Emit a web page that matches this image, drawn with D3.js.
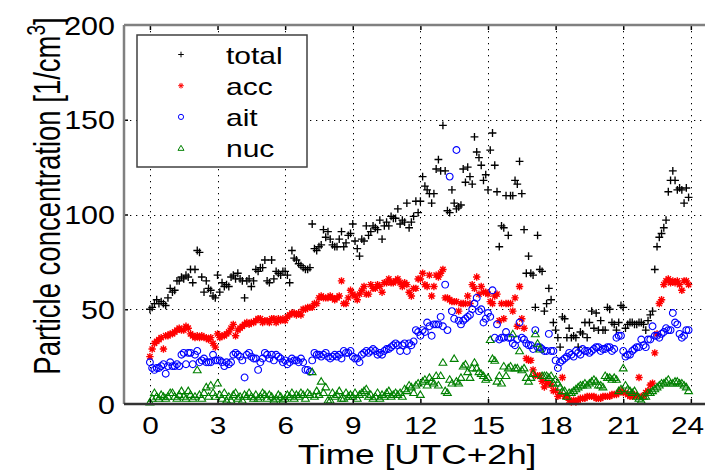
<!DOCTYPE html>
<html>
<head>
<meta charset="utf-8">
<script src="https://cdn.jsdelivr.net/npm/d3@7"></script>
<style>
  body { margin: 0; background: #fff; }
  svg { display: block; }
  text { font-family: Arial, "Liberation Sans", Helvetica, sans-serif; fill: #000; }
</style>
</head>
<body>
<svg id="chart" width="705" height="473"></svg>
<script>
// Six-minute samples over one day, local time (UTC+2h)
const sampleStep = 0.1; // hours between samples
const hourTicks = [0, 3, 6, 9, 12, 15, 18, 21, 24];
const concTicks = [0, 50, 100, 150, 200];
const seriesNames = ["total", "acc", "ait", "nuc"];

// Particle number concentrations [1/cm^3]
const total = [
  50, 51, 53, 55, 53, 54, 53, 52, 56, 61,
  59, 60, 65, 65, 67, 66, 68, 67, 71, 64,
  71, 81, 80, 67, 59, 65, 61, 60, 57, 56,
  68, 59, 64, 62, 63, 62, 67, 68, 66, 69,
  66, 65, 56, 65, 66, 62, 65, 71, 70, 72,
  72, 76, 65, 64, 76, 66, 70, 69, 68, 70,
  70, 68, 64, 81, 77, 76, 74, 73, 72, 71,
  71, 72, 95, 82, 81, 83, 84, 92, 88, 91,
  87, 84, 83, 83, 87, 91, 83, 85, 89, 90,
  95, 86, 82, 78, 87, 86, 94, 89, 91, 94,
  93, 92, 97, 87, 94, 96, 94, 99, 98, 98,
  103, 95, 97, 96, 106, 93, 96, 99, 107, 101,
  107, 120, 115, 113, 111, 106, 111, 124, 129, 123,
  147, 123, 102, 101, 113, 106, 103, 104, 105, 124,
  117, 125, 120, 116, 141, 133, 130, 126, 118, 121,
  113, 134, 143, 126, 112, 83, 94, 93, 110, 89,
  110, 110, 118, 116, 128, 111, 92, 69, 78, 69,
  68, 51, 89, 71, 70, 49, 53, 61, 55, 43,
  39, 35, 30, 46, 45, 35, 40, 35, 36, 35,
  30, 38, 37, 43, 35, 43, 49, 40, 48, 39,
  44, 39, 39, 51, 50, 43, 42, 39, 43, 52,
  51, 40, 42, 43, 43, 42, 42, 43, 43, 42,
  39, 44, 47, 49, 71, 83, 88, 90, 93, 97,
  112, 118, 123, 118, 113, 114, 113, 106, 114, 109
];

const acc = [
  25, 29, 32, 33, 34, 35, 29, 36, 36, 37,
  37, 38, 39, 40, 39, 39, 41, 40, 37, 36,
  35, 36, 35, 36, 35, 35, 34, 35, 32, 30,
  37, 35, 36, 36, 37, 38, 40, 42, 36, 39,
  40, 41, 42, 43, 42, 43, 43, 44, 45, 45,
  43, 44, 44, 43, 45, 45, 43, 45, 44, 45,
  44, 46, 47, 48, 48, 47, 48, 47, 50, 50,
  51, 51, 51, 53, 53, 56, 57, 56, 56, 56,
  57, 56, 55, 56, 57, 65, 53, 53, 56, 60,
  58, 57, 55, 58, 60, 62, 58, 58, 63, 61,
  61, 63, 62, 59, 64, 64, 66, 64, 64, 65,
  66, 64, 62, 64, 63, 59, 57, 61, 61, 66,
  66, 69, 63, 62, 68, 57, 62, 68, 67, 69,
  71, 56, 56, 55, 54, 54, 54, 49, 53, 53,
  53, 57, 53, 63, 61, 67, 58, 62, 59, 59,
  58, 54, 53, 57, 58, 44, 53, 45, 53, 53,
  53, 49, 56, 41, 62, 45, 40, 24, 23, 23,
  18, 15, 15, 15, 12, 9, 11, 11, 10, 7,
  7, 4, 5, 14, 4, 4, 2, 1, 2, 1,
  2, 3, 3, 3, 4, 4, 4, 4, 3, 3,
  3, 4, 4, 4, 4, 5, 5, 5, 6, 7,
  6, 6, 5, 4, 4, 5, 4, 14, 4, 4,
  6, 7, 10, 11, 27, 37, 53, 55, 63, 65,
  66, 64, 65, 64, 65, 63, 60, 65, 65, 63
];

const ait = [
  22, 19, 18, 19, 19, 20, 21, 16, 20, 22,
  20, 20, 21, 20, 26, 27, 21, 27, 27, 21,
  26, 28, 22, 23, 24, 22, 22, 22, 26, 23,
  23, 23, 22, 20, 22, 21, 22, 26, 27, 26,
  25, 23, 14, 26, 27, 25, 24, 24, 18, 22,
  24, 27, 26, 24, 26, 23, 26, 25, 24, 22,
  23, 21, 22, 24, 23, 23, 22, 24, 22, 18,
  18, 17, 23, 27, 26, 26, 25, 26, 27, 25,
  24, 25, 26, 25, 26, 24, 28, 27, 27, 28,
  25, 24, 24, 22, 26, 27, 28, 27, 28, 29,
  28, 26, 27, 26, 28, 29, 29, 30, 31, 32,
  31, 28, 31, 32, 28, 32, 31, 33, 39, 38,
  36, 39, 38, 43, 41, 36, 42, 42, 42, 46,
  41, 63, 39, 120, 49, 45, 134, 44, 42, 44,
  45, 46, 47, 50, 53, 56, 49, 50, 43, 45,
  48, 46, 60, 35, 42, 34, 35, 35, 38, 35,
  35, 32, 31, 34, 43, 35, 34, 32, 31, 31,
  29, 39, 30, 30, 29, 28, 28, 37, 28, 28,
  23, 19, 22, 23, 24, 25, 27, 26, 25, 28,
  27, 26, 29, 28, 28, 27, 28, 29, 30, 30,
  28, 29, 29, 30, 30, 28, 29, 35, 36, 36,
  28, 25, 26, 26, 28, 29, 30, 30, 34, 31,
  30, 34, 34, 41, 36, 36, 35, 37, 38, 40,
  39, 39, 48, 43, 42, 37, 35, 36, 39, 39
];

const nuc = [
  1, 3, 6, 4, 3, 5, 4, 3, 4, 6,
  6, 4, 3, 5, 7, 4, 3, 7, 5, 3,
  4, 18, 5, 3, 6, 9, 4, 10, 6, 4,
  11, 5, 3, 6, 2, 4, 2, 5, 6, 3,
  4, 2, 5, 4, 6, 4, 3, 5, 3, 4,
  6, 5, 3, 5, 4, 2, 3, 5, 4, 2,
  3, 5, 4, 6, 3, 5, 4, 6, 5, 3,
  6, 5, 17, 4, 7, 5, 12, 6, 9, 2,
  2, 6, 4, 5, 7, 3, 3, 6, 4, 5,
  4, 6, 3, 5, 6, 7, 8, 4, 5, 3,
  4, 6, 3, 5, 4, 6, 7, 4, 5, 6,
  5, 6, 4, 8, 7, 10, 9, 6, 10, 11,
  5, 12, 13, 10, 14, 12, 11, 15, 10, 15,
  22, 7, 6, 13, 11, 24, 12, 11, 14, 20,
  21, 17, 14, 19, 22, 19, 17, 16, 15, 13,
  14, 34, 24, 23, 12, 15, 11, 20, 15, 19,
  20, 37, 19, 19, 28, 18, 19, 14, 12, 14,
  16, 37, 32, 29, 15, 15, 15, 14, 15, 11,
  13, 11, 9, 7, 7, 4, 6, 6, 7, 8,
  9, 10, 10, 11, 10, 11, 12, 13, 12, 10,
  10, 9, 15, 14, 14, 13, 14, 13, 7, 8,
  19, 10, 8, 7, 6, 7, 4, 3, 2, 4,
  4, 6, 6, 7, 8, 9, 10, 11, 11, 12,
  13, 11, 11, 12, 12, 11, 11, 10, 9, 7
];

const seriesValues = [total, acc, ait, nuc];

// Marker shapes, one per series
const markerStyle = {
  total: { path: s => `M${-s},0H${s}M0,${-s}V${s}`, stroke: "#000", width: 1.35 },
  acc:   { path: s => `M${-s},0H${s}M0,${-s}V${s}M${-s*0.72},${-s*0.72}L${s*0.72},${s*0.72}M${-s*0.72},${s*0.72}L${s*0.72},${-s*0.72}`, stroke: "#ff0000", width: 1.4 },
  ait:   { path: s => `M${s},0A${s},${s} 0 1,1 ${-s},0A${s},${s} 0 1,1 ${s},0Z`, stroke: "#0000ff", width: 1.1 },
  nuc:   { path: s => `M0,${-s}L${s*1.08},${s*0.8}L${-s*1.08},${s*0.8}Z`, stroke: "#008000", width: 1.1 }
};
const markerSize = { total: 3.9, acc: 3.7, ait: 3.4, nuc: 3.6 };

const svg = d3.select("#chart");
const x = d3.scaleLinear().domain([-1.15, 24.85]).range([124, 710]);
const y = d3.scaleLinear().domain([0, 200]).range([404, 25]);
const [xL, xR] = x.range();
const [yB, yT] = y.range();

svg.append("rect").attr("width", 705).attr("height", 473).attr("fill", "#fff");

// Dotted grid
const grid = svg.append("g").attr("stroke", "#000").attr("stroke-width", 1)
  .attr("stroke-dasharray", "1.3,4.7");
grid.selectAll(".gx").data(hourTicks).join("line")
  .attr("x1", d => Math.round(x(d)) + 0.5).attr("x2", d => Math.round(x(d)) + 0.5)
  .attr("y1", yT).attr("y2", yB);
grid.selectAll(".gy").data(concTicks.filter(v => v > 0 && v < 200)).join("line")
  .attr("x1", xL).attr("x2", xR)
  .attr("y1", d => Math.round(y(d)) + 0.5).attr("y2", d => Math.round(y(d)) + 0.5);

// Scatter markers
const plot = svg.append("g").attr("fill", "none");
seriesNames.forEach((name, k) => {
  const st = markerStyle[name];
  const pts = seriesValues[k].map((v, i) => [i * sampleStep, v]);
  plot.append("g").selectAll("path").data(pts).join("path")
    .attr("transform", d => `translate(${x(d[0])},${y(d[1])})`)
    .attr("d", st.path(markerSize[name]))
    .attr("stroke", st.stroke).attr("stroke-width", st.width);
});

// Axes
const xAxis = svg.append("g").attr("transform", `translate(0,${yB})`)
  .call(d3.axisBottom(x).tickValues(hourTicks).tickSizeInner(-5).tickSizeOuter(0).tickFormat(d3.format("d")));
const xTop = svg.append("g").attr("transform", `translate(0,${yT})`)
  .call(d3.axisTop(x).tickValues(hourTicks).tickSizeInner(-5).tickSizeOuter(0).tickFormat(""));
const yAxis = svg.append("g").attr("transform", `translate(${xL},0)`)
  .call(d3.axisLeft(y).tickValues(concTicks).tickSizeInner(-4).tickSizeOuter(0).tickFormat(d3.format("d")));
[xAxis, xTop, yAxis].forEach(g => {
  g.select(".domain").remove();
  g.selectAll(".tick line").attr("stroke", "#000").attr("stroke-width", 1.5);
});
// last label sits close to the right edge, so it is nudged inward
xAxis.selectAll(".tick text")
  .attr("y", 30).attr("dy", null)
  .attr("x", d => d === 24 ? -3 : 0)
  .attr("font-size", 24).attr("transform", "scale(1.24,1)");
yAxis.selectAll(".tick text")
  .attr("x", -9 / 1.22).attr("dy", "0.36em")
  .attr("font-size", 25).attr("transform", "scale(1.22,1)");
yAxis.selectAll(".tick").filter(d => d === 0 || d === 200).select("line").remove();

// Frame
svg.append("line").attr("x1", xL).attr("x2", 705).attr("y1", yT).attr("y2", yT)
  .attr("stroke", "#808080").attr("stroke-width", 2.5);
svg.append("line").attr("x1", xL).attr("x2", xL).attr("y1", yT).attr("y2", yB)
  .attr("stroke", "#808080").attr("stroke-width", 2.5);
svg.append("line").attr("x1", xL).attr("x2", 705).attr("y1", yB).attr("y2", yB)
  .attr("stroke", "#333").attr("stroke-width", 2.5);

// Axis titles
svg.append("text")
  .attr("transform", "translate(417,464) scale(1.26,1)")
  .attr("text-anchor", "middle").attr("font-size", 28)
  .text("Time [UTC+2h]");
const yt = svg.append("text")
  .attr("transform", "translate(60,196) scale(1.32,1) rotate(-90)")
  .attr("text-anchor", "middle").attr("font-size", 27.5);
yt.append("tspan").text("Particle concentration [1/cm");
yt.append("tspan").attr("font-size", 19).attr("dy", -11).text("3");
yt.append("tspan").attr("dy", 11).text("]");

// Legend
const lg = svg.append("g");
lg.append("rect").attr("x", 137).attr("y", 35).attr("width", 170).attr("height", 132)
  .attr("fill", "#fff").attr("stroke", "#404040").attr("stroke-width", 1.5);
seriesNames.forEach((name, i) => {
  const cy = 54.5 + i * 31.2;
  const st = markerStyle[name];
  lg.append("path").attr("transform", `translate(181,${cy})`)
    .attr("d", st.path(name === "ait" ? 2.6 : 2.8)).attr("fill", "none")
    .attr("stroke", st.stroke).attr("stroke-width", 1);
  lg.append("text").attr("transform", `translate(226,${cy + 9}) scale(1.25,1)`)
    .attr("font-size", 24).text(name);
});
</script>
</body>
</html>
